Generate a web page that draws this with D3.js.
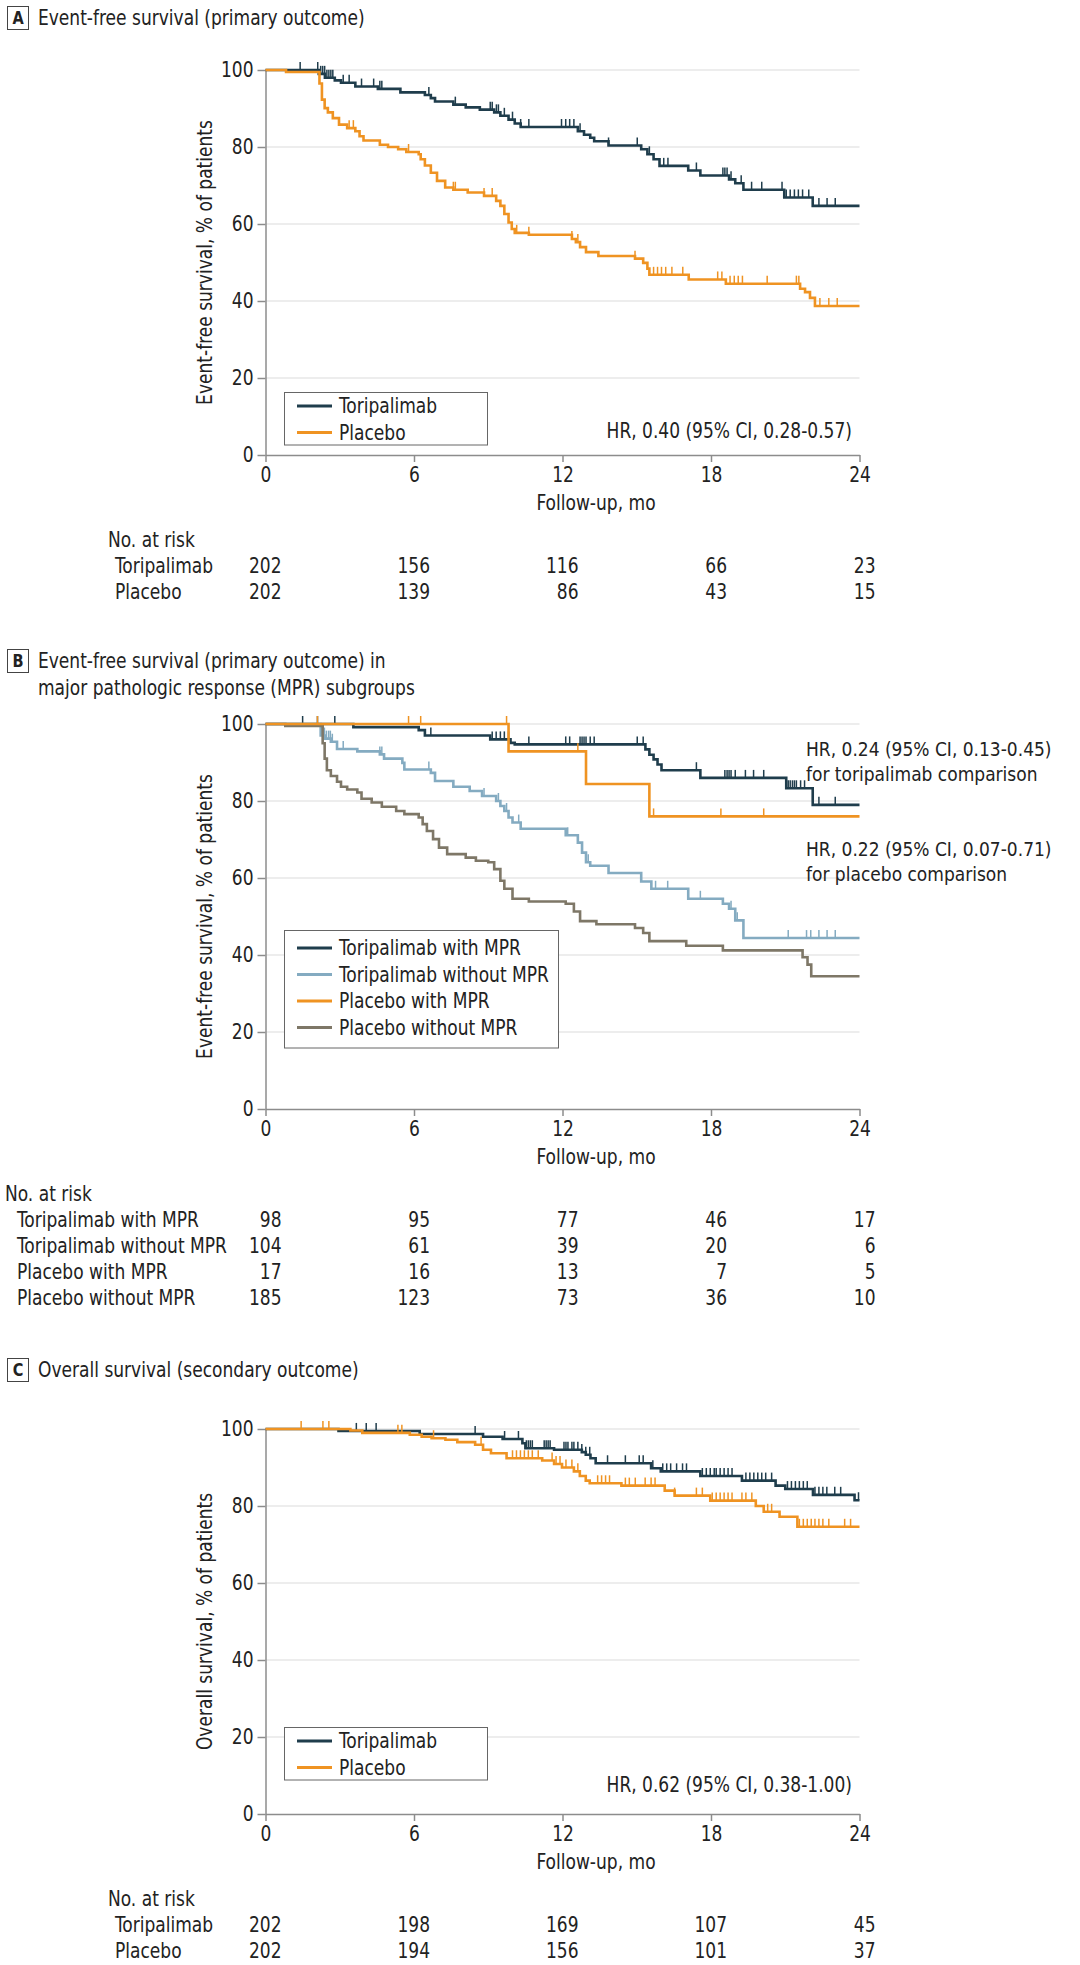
<!DOCTYPE html>
<html>
<head>
<meta charset="utf-8">
<title>Toripalimab vs placebo survival</title>
<script src="https://d3js.org/d3.v7.min.js"></script>
<style>
  body { margin: 0; background: #fff; }
  svg { display: block; fill: #222; }
</style>
</head>
<body>
<div id="chart"></div>
<script>
// ---------- data ----------
const monthTicks = [0, 6, 12, 18, 24];
const pctTicks = [0, 20, 40, 60, 80, 100];

// Panel A: event-free survival, steps are [month, % of patients]
const efsTori = [[0,100],[2.15,99.0],[2.4,98.0],[2.8,97.3],[3.05,96.7],[3.63,95.7],[4.54,95.1],[5.45,94.2],[6.44,93.5],[6.68,92.7],[6.85,91.8],[7.59,91.0],[8.09,90.3],[8.66,89.7],[9.24,89.0],[9.49,88.1],[9.82,87.1],[10.07,86.1],[10.31,85.2],[12.62,84.1],[12.87,83.2],[13.12,82.4],[13.28,81.5],[13.86,80.4],[15.18,79.4],[15.43,78.1],[15.68,76.8],[15.92,75.1],[17.08,73.9],[17.57,72.6],[18.73,71.6],[18.98,70.6],[19.31,68.9],[20.96,66.9],[22.11,64.7]];
const efsToriCensor = [1.4,2.11,2.23,2.31,2.39,2.48,2.56,2.64,2.72,3.14,3.38,3.88,4.37,4.62,4.7,6.6,7.67,9.08,9.16,9.33,9.41,9.65,9.98,10.31,10.64,11.96,12.13,12.29,12.46,12.71,13.86,15.02,15.51,16.09,16.26,17.41,18.48,18.56,18.65,18.81,19.22,19.64,20.05,20.87,21.04,21.2,21.37,21.53,21.7,21.95,22.36,22.69,23.02];
const efsPlac = [[0,100],[0.83,99.5],[2.18,96.5],[2.28,92.3],[2.39,90.1],[2.52,89.0],[2.72,87.5],[2.97,85.8],[3.3,84.9],[3.63,84.1],[3.8,82.8],[3.96,81.7],[4.62,80.6],[4.95,80.0],[5.36,79.4],[5.69,78.7],[6.19,78.1],[6.27,76.8],[6.44,75.2],[6.68,73.3],[6.93,71.2],[7.26,69.5],[7.59,68.9],[8.17,68.2],[8.83,67.3],[9.32,66.0],[9.49,64.7],[9.65,62.6],[9.82,60.4],[9.95,58.7],[10.07,57.7],[10.64,57.2],[12.38,56.1],[12.54,55.3],[12.71,54.0],[12.95,52.7],[13.45,51.7],[14.93,51.0],[15.26,49.9],[15.43,48.4],[15.51,46.8],[17.1,45.6],[18.6,44.5],[21.6,43.2],[21.8,42.3],[22.0,40.8],[22.2,38.7]];
const efsPlacCensor = [3.38,3.55,5.78,7.59,7.67,8.83,9.16,10.15,10.64,12.38,12.62,14.93,15.68,15.84,16.0,16.17,16.42,16.86,18.27,18.44,18.77,18.94,19.1,19.27,20.27,21.45,21.55,22.4,22.76,23.1];
const riskNamesA = ['Toripalimab', 'Placebo'];
const riskToriA = [202, 156, 116, 66, 23];
const riskPlacA = [202, 139, 86, 43, 15];

// Panel B: event-free survival by MPR subgroup
const mprToriWith = [[0,100],[3.55,99.2],[6.19,98.4],[6.44,97.0],[9.08,96.0],[9.9,95.1],[10.07,94.7],[15.35,93.4],[15.51,92.0],[15.68,90.8],[15.84,89.5],[16.0,88.0],[17.57,86.0],[21.04,83.3],[22.11,79.0]];
const mprToriWithCensor = [1.5,2.1,2.8,6.68,9.16,9.32,9.49,9.65,9.82,10.64,12.13,12.29,12.71,12.79,12.87,12.95,13.12,13.28,15.02,15.26,17.41,18.56,18.65,18.73,18.81,18.98,19.39,19.72,20.13,21.12,21.2,21.29,21.37,21.45,21.62,21.78,22.36,23.02];
const mprToriWithout = [[0,100],[2.23,97.0],[2.39,96.2],[2.64,95.4],[2.89,93.5],[3.71,92.9],[4.62,92.1],[4.79,91.0],[5.53,89.9],[5.61,88.2],[6.68,87.3],[6.85,85.2],[7.59,83.7],[8.25,82.6],[8.75,81.3],[9.32,80.0],[9.49,78.7],[9.65,77.4],[9.82,75.7],[9.98,74.4],[10.31,72.8],[12.13,71.1],[12.62,69.2],[12.79,66.6],[12.95,64.1],[13.12,63.2],[13.86,61.3],[15.18,59.1],[15.59,57.2],[17.08,54.6],[18.48,53.3],[18.73,52.0],[18.98,49.0],[19.31,44.4]];
const mprToriWithoutCensor = [2.3,2.38,2.46,2.55,2.62,2.7,3.14,4.62,4.7,6.6,8.83,9.41,9.74,10.23,12.21,13.04,15.76,16.25,17.57,18.81,19.06,21.12,21.86,22.03,22.36,22.69,23.02];
const mprPlacWith = [[0,100],[9.82,92.9],[12.95,84.4],[15.51,76.0]];
const mprPlacWithCensor = [2.1,5.78,6.27,9.74,12.62,15.68,18.4,20.13];
const mprPlacWithout = [[0,100],[0.8,99.5],[2.31,95.0],[2.39,91.0],[2.48,88.0],[2.64,86.5],[2.89,85.0],[3.05,83.7],[3.3,83.0],[3.71,82.2],[3.88,80.6],[4.29,79.6],[4.7,78.5],[5.28,77.4],[5.61,76.6],[6.19,75.7],[6.35,74.0],[6.52,72.2],[6.77,70.1],[7.01,67.9],[7.34,66.2],[8.09,65.3],[8.5,64.5],[9.0,64.1],[9.24,62.3],[9.49,59.3],[9.65,57.2],[9.98,54.6],[10.64,53.9],[12.13,53.3],[12.46,51.3],[12.71,48.8],[13.37,48.0],[14.93,47.0],[15.26,45.7],[15.51,43.6],[17.0,42.4],[18.48,41.2],[21.7,39.4],[21.9,37.5],[22.05,34.5]];
const mprPlacWithoutCensor = [];
const riskNamesB = ['Toripalimab with MPR', 'Toripalimab without MPR', 'Placebo with MPR', 'Placebo without MPR'];
const riskToriWith = [98, 95, 77, 46, 17];
const riskToriWithout = [104, 61, 39, 20, 6];
const riskPlacWith = [17, 16, 13, 7, 5];
const riskPlacWithout = [185, 123, 73, 36, 10];

// Panel C: overall survival
const osTori = [[0,100],[2.95,99.5],[6.23,98.7],[8.79,98.0],[9.58,97.4],[10.38,96.3],[10.5,95.0],[11.66,94.6],[12.78,94.0],[12.94,93.3],[13.13,92.4],[13.34,91.1],[15.58,89.8],[15.97,89.0],[17.57,87.8],[19.25,86.6],[20.61,85.3],[21.0,84.4],[22.12,82.9],[23.8,81.5]];
const osToriCensor = [3.67,4.07,4.47,8.47,9.66,10.22,10.54,10.62,10.7,10.78,11.26,11.34,11.42,11.5,12.06,12.14,12.22,12.38,12.46,12.62,12.78,12.94,13.1,13.82,14.54,15.1,15.26,15.65,16.05,16.21,16.37,16.61,16.85,17.01,17.65,17.81,17.97,18.13,18.21,18.37,18.53,18.69,18.85,19.41,19.57,19.73,19.89,20.05,20.21,20.45,21.09,21.25,21.41,21.57,21.73,21.89,22.2,22.36,22.52,22.68,23.0,23.24,23.96];
const osPlac = [[0,100],[3.43,99.6],[3.91,99.0],[5.83,98.5],[6.31,98.0],[6.71,97.6],[7.27,97.2],[7.75,96.6],[8.47,95.9],[8.79,94.6],[9.11,93.7],[9.74,92.4],[11.18,91.8],[11.66,90.9],[11.98,90.0],[12.46,89.0],[12.7,87.8],[12.94,86.6],[13.1,85.9],[14.38,85.3],[16.13,84.0],[16.53,82.7],[17.97,81.4],[19.81,80.0],[20.13,78.5],[20.77,77.2],[21.49,74.6]];
const osPlacCensor = [1.44,2.32,2.56,5.35,5.51,6.79,8.71,9.98,10.14,10.3,10.46,10.62,10.78,11.02,11.58,11.74,11.9,12.14,12.38,12.62,13.42,13.58,13.74,13.9,14.54,14.7,14.94,15.34,15.58,15.74,16.53,17.41,17.65,18.05,18.21,18.37,18.53,18.69,18.85,19.25,19.41,19.65,20.29,20.45,21.57,21.73,21.89,22.05,22.2,22.36,22.52,22.76,23.4,23.64];
const riskNamesC = ['Toripalimab', 'Placebo'];
const riskToriC = [202, 198, 169, 107, 45];
const riskPlacC = [202, 194, 156, 101, 37];

// ---------- drawing ----------
const W = 1080, H = 1965;
const plotH = 385;
const col = { tori: '#1f3d4c', plac: '#ef9322', toriNo: '#84abc1', placNo: '#7e7767' };
const fontFamily = '"Liberation Sans Narrow", "DejaVu Sans Condensed", "Liberation Sans", Arial, sans-serif';

const svg = d3.select('#chart').append('svg')
    .attr('width', W)
    .attr('height', H)
    .style('font-family', fontFamily);

const measure = (str, size) => {
    const t = svg.append('text').attr('font-size', size).text(str);
    const w = t.node().getComputedTextLength();
    t.remove();
    return w;
};
// glyphs a bit taller than the installed face, squeezed back to the figure's widths
const tall = 1.1;
const fsBase = Math.min(24, 100 * 210 / measure('Toripalimab without MPR', 100));
const fs = fsBase * tall;
const squeeze = 1 / tall;

const x = d3.scaleLinear().domain([0, 24]).range([265.5, 859.5]);

const levelAt = (steps, t) => {
    let s = steps[0][1];
    steps.forEach(p => { if (p[0] <= t) s = p[1]; });
    return s;
};

const panels = [
    {
        letter: 'A', title: ['Event-free survival (primary outcome)'], titleY: 18, top: 70,
        yLabel: 'Event-free survival, % of patients',
        series: [
            { name: riskNamesA[0], steps: efsTori, censor: efsToriCensor, color: col.tori },
            { name: riskNamesA[1], steps: efsPlac, censor: efsPlacCensor, color: col.plac }
        ],
        legendOrder: [0, 1], legendW: 203, legendRow: 406, legendPad: [14, 12],
        hr: [{ text: 'HR, 0.40 (95% CI, 0.28-0.57)', x: 852, y: 431, anchor: 'end' }],
        risk: [riskToriA, riskPlacA], riskNames: riskNamesA, labelX: 115, riskTitleX: 108
    },
    {
        letter: 'B', title: ['Event-free survival (primary outcome) in', 'major pathologic response (MPR) subgroups'], titleY: 661, top: 724,
        yLabel: 'Event-free survival, % of patients',
        series: [
            { name: riskNamesB[0], steps: mprToriWith, censor: mprToriWithCensor, color: col.tori },
            { name: riskNamesB[1], steps: mprToriWithout, censor: mprToriWithoutCensor, color: col.toriNo },
            { name: riskNamesB[3], steps: mprPlacWithout, censor: mprPlacWithoutCensor, color: col.placNo },
            { name: riskNamesB[2], steps: mprPlacWith, censor: mprPlacWithCensor, color: col.plac }
        ],
        legendOrder: [0, 1, 3, 2], legendW: 274, legendRow: 948, legendPad: [18, 20],
        hr: [
            { text: 'HR, 0.24 (95% CI, 0.13-0.45)', x: 806, y: 749, anchor: 'start', plain: true },
            { text: 'for toripalimab comparison', x: 806, y: 774, anchor: 'start', plain: true },
            { text: 'HR, 0.22 (95% CI, 0.07-0.71)', x: 806, y: 849, anchor: 'start', plain: true },
            { text: 'for placebo comparison', x: 806, y: 874, anchor: 'start', plain: true }
        ],
        risk: [riskToriWith, riskToriWithout, riskPlacWith, riskPlacWithout], riskNames: riskNamesB, labelX: 17, riskTitleX: 5
    },
    {
        letter: 'C', title: ['Overall survival (secondary outcome)'], titleY: 1370, top: 1429,
        yLabel: 'Overall survival, % of patients',
        series: [
            { name: riskNamesC[0], steps: osTori, censor: osToriCensor, color: col.tori },
            { name: riskNamesC[1], steps: osPlac, censor: osPlacCensor, color: col.plac }
        ],
        legendOrder: [0, 1], legendW: 203, legendRow: 1741, legendPad: [14, 12],
        hr: [{ text: 'HR, 0.62 (95% CI, 0.38-1.00)', x: 852, y: 1785, anchor: 'end' }],
        risk: [riskToriC, riskPlacC], riskNames: riskNamesC, labelX: 115, riskTitleX: 108
    }
];

const drawPanel = (p) => {
    const g = svg.append('g');
    const y = d3.scaleLinear().domain([0, 100]).range([p.top + plotH, p.top]);
    const y0 = p.top + plotH;

    // letter box + title
    g.append('rect')
        .attr('x', 7.5).attr('y', p.titleY - 11.5)
        .attr('width', 21).attr('height', 23)
        .attr('fill', 'none').attr('stroke', '#444').attr('stroke-width', 1);
    g.append('text')
        .attr('x', 18).attr('y', p.titleY)
        .attr('text-anchor', 'middle').attr('dominant-baseline', 'central')
        .attr('font-size', fs * 0.85).attr('font-weight', 'bold')
        .text(p.letter);
    p.title.forEach((t, i) => {
        g.append('text')
            .attr('x', 38).attr('y', p.titleY + i * 27)
            .attr('dominant-baseline', 'central')
            .attr('font-size', fs)
            .text(t);
    });

    // gridlines
    g.selectAll(null)
        .data(pctTicks.filter(d => d > 0))
        .join('line')
        .attr('x1', x(0)).attr('x2', x(24))
        .attr('y1', d => y(d)).attr('y2', d => y(d))
        .attr('stroke', '#dcdcdc').attr('stroke-width', 1.2);

    // axes
    const yAxis = g.append('g')
        .attr('transform', `translate(${x(0)},0)`)
        .call(d3.axisLeft(y).tickValues(pctTicks).tickSize(8).tickSizeOuter(0).tickPadding(4));
    const xAxis = g.append('g')
        .attr('transform', `translate(0,${y0})`)
        .call(d3.axisBottom(x).tickValues(monthTicks).tickSize(7).tickSizeOuter(0).tickPadding(5));
    [yAxis, xAxis].forEach(a => {
        a.select('.domain').attr('stroke', '#8c8c8c').attr('stroke-width', 1.5);
        a.selectAll('.tick line').attr('stroke', '#8c8c8c').attr('stroke-width', 1.5);
        a.selectAll('.tick text').attr('font-size', fs).attr('fill', '#222')
            .attr('font-family', fontFamily);
    });

    g.append('text')
        .attr('transform', `translate(205,${p.top + plotH / 2}) rotate(-90)`)
        .attr('text-anchor', 'middle').attr('dominant-baseline', 'central')
        .attr('font-size', fs)
        .text(p.yLabel);
    g.append('text')
        .attr('x', 596).attr('y', y0 + 48)
        .attr('text-anchor', 'middle').attr('dominant-baseline', 'central')
        .attr('font-size', fs)
        .text('Follow-up, mo');

    // curves
    const line = d3.line().x(d => x(d[0])).y(d => y(d[1])).curve(d3.curveStepAfter);
    p.series.forEach(s => {
        const pts = s.steps.concat([[24, s.steps[s.steps.length - 1][1]]]);
        g.append('path')
            .datum(pts)
            .attr('d', line)
            .attr('fill', 'none')
            .attr('stroke', s.color)
            .attr('stroke-width', 2.6);
        g.selectAll(null)
            .data(s.censor)
            .join('line')
            .attr('x1', d => x(d)).attr('x2', d => x(d))
            .attr('y1', d => y(levelAt(s.steps, d)))
            .attr('y2', d => y(levelAt(s.steps, d)) - 8)
            .attr('stroke', s.color)
            .attr('stroke-width', 1.5);
    });

    // legend
    const n = p.legendOrder.length;
    const rowGap = 26.5;
    const legTop = p.legendRow - p.legendPad[0];
    const lg = g.append('g');
    lg.append('rect')
        .attr('x', 284.5).attr('y', legTop + 0.5)
        .attr('width', p.legendW).attr('height', p.legendPad[0] + p.legendPad[1] + rowGap * (n - 1))
        .attr('fill', '#fff').attr('stroke', '#666').attr('stroke-width', 1);
    p.legendOrder.forEach((k, i) => {
        const s = p.series[k];
        const ly = p.legendRow + rowGap * i;
        lg.append('line')
            .attr('x1', 297).attr('x2', 332).attr('y1', ly).attr('y2', ly)
            .attr('stroke', s.color).attr('stroke-width', 3);
        lg.append('text')
            .attr('x', 339).attr('y', ly)
            .attr('dominant-baseline', 'central')
            .attr('font-size', fs)
            .text(s.name);
    });

    // hazard ratio notes (the ones near the right edge keep their natural width)
    p.hr.forEach(h => {
        g.append('text')
            .attr('class', h.plain ? 'plain' : null)
            .attr('x', h.x).attr('y', h.y)
            .attr('text-anchor', h.anchor).attr('dominant-baseline', 'central')
            .attr('font-size', h.plain ? fsBase : fs)
            .text(h.text);
    });

    // number at risk table
    g.append('text')
        .attr('x', p.riskTitleX).attr('y', y0 + 85)
        .attr('dominant-baseline', 'central')
        .attr('font-size', fs)
        .text('No. at risk');
    p.risk.forEach((row, i) => {
        const ry = y0 + 110.5 + 26.3 * i;
        g.append('text')
            .attr('x', p.labelX).attr('y', ry)
            .attr('dominant-baseline', 'central')
            .attr('font-size', fs)
            .text(p.riskNames[i]);
        g.selectAll(null)
            .data(row)
            .join('text')
            .attr('x', (d, j) => x(monthTicks[j]) + 16)
            .attr('y', ry)
            .attr('text-anchor', 'end').attr('dominant-baseline', 'central')
            .attr('font-size', fs)
            .text(d => d);
    });
};

panels.forEach(drawPanel);

// condense texts to the narrow proportions of the figure's typeface
svg.selectAll('text').each(function () {
    if (this.classList.contains('plain')) return;
    const w = this.getComputedTextLength();
    d3.select(this).attr('textLength', w * squeeze).attr('lengthAdjust', 'spacingAndGlyphs');
});
</script>
</body>
</html>
